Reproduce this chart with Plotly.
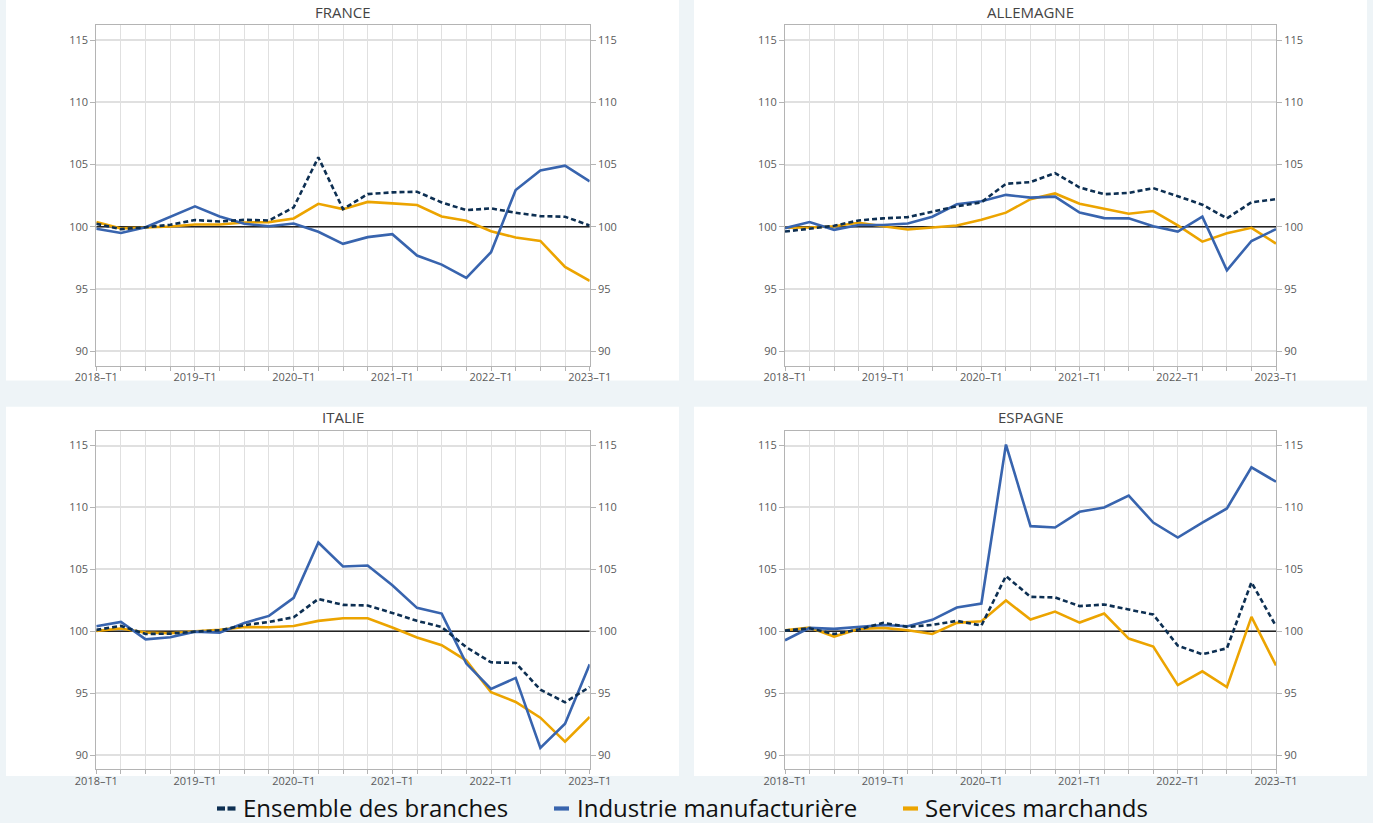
import plotly.graph_objects as go

# ---------------- data ----------------
quarters = ["2018–T1", "2018–T2", "2018–T3", "2018–T4",
            "2019–T1", "2019–T2", "2019–T3", "2019–T4",
            "2020–T1", "2020–T2", "2020–T3", "2020–T4",
            "2021–T1", "2021–T2", "2021–T3", "2021–T4",
            "2022–T1", "2022–T2", "2022–T3", "2022–T4",
            "2023–T1"]
x_tick_labels = ["2018–T1", "2019–T1", "2020–T1", "2021–T1", "2022–T1", "2023–T1"]
y_ticks = [90, 95, 100, 105, 110, 115]
countries = ["FRANCE", "ALLEMAGNE", "ITALIE", "ESPAGNE"]
series_names = ["Ensemble des branches", "Industrie manufacturière", "Services marchands"]

france_ensemble = [100.24, 99.81, 99.97, 100.16, 100.54, 100.43, 100.56, 100.51, 101.56, 105.59, 101.42,
                   102.63, 102.77, 102.82, 101.96, 101.34, 101.48, 101.13, 100.86, 100.81, 100.11]
france_industrie = [99.84, 99.50, 99.97, 100.83, 101.64, 100.83, 100.24, 100.05, 100.27, 99.60, 98.63,
                    99.17, 99.41, 97.69, 96.96, 95.89, 97.96, 102.96, 104.52, 104.92, 103.66]
france_services = [100.38, 99.87, 99.95, 100.03, 100.19, 100.19, 100.35, 100.38, 100.67, 101.85, 101.42,
                   102.00, 101.88, 101.75, 100.83, 100.48, 99.65, 99.14, 98.87, 96.77, 95.65]

allemagne_ensemble = [99.62, 99.86, 100.08, 100.51, 100.68, 100.78, 101.19, 101.65, 101.97, 103.46, 103.59,
                      104.32, 103.16, 102.62, 102.73, 103.11, 102.46, 101.78, 100.68, 101.97, 102.22]
allemagne_industrie = [99.89, 100.38, 99.76, 100.14, 100.14, 100.27, 100.81, 101.81, 102.05, 102.57, 102.35,
                       102.43, 101.14, 100.70, 100.68, 100.05, 99.62, 100.81, 96.51, 98.86, 99.81]
allemagne_services = [99.92, 99.95, 100.05, 100.32, 100.05, 99.78, 99.95, 100.11, 100.57, 101.14, 102.22,
                      102.68, 101.86, 101.43, 101.05, 101.27, 100.11, 98.81, 99.49, 99.92, 98.65]

italie_ensemble = [100.11, 100.43, 99.78, 99.81, 99.97, 100.08, 100.49, 100.75, 101.13, 102.61, 102.13,
                   102.08, 101.48, 100.84, 100.35, 98.71, 97.49, 97.44, 95.28, 94.26, 95.50]
italie_industrie = [100.40, 100.75, 99.35, 99.51, 99.97, 99.89, 100.67, 101.24, 102.70, 107.17, 105.23,
                    105.31, 103.72, 101.89, 101.43, 97.39, 95.34, 96.23, 90.57, 92.53, 97.33]
italie_services = [100.03, 100.22, 99.89, 99.84, 100.00, 100.11, 100.35, 100.32, 100.43, 100.84, 101.05,
                   101.05, 100.30, 99.49, 98.87, 97.63, 95.07, 94.29, 93.02, 91.08, 93.08]

espagne_ensemble = [100.05, 100.24, 99.78, 100.14, 100.68, 100.35, 100.51, 100.84, 100.46, 104.46, 102.78,
                    102.73, 102.03, 102.16, 101.76, 101.35, 98.84, 98.14, 98.62, 103.95, 100.41]
espagne_industrie = [99.27, 100.27, 100.19, 100.32, 100.51, 100.41, 100.92, 101.92, 102.24, 115.08, 108.49,
                     108.38, 109.65, 110.00, 110.95, 108.78, 107.57, 108.78, 109.92, 113.24, 112.08]
espagne_services = [100.08, 100.30, 99.57, 100.19, 100.27, 100.08, 99.78, 100.68, 100.81, 102.49, 100.95,
                    101.59, 100.70, 101.43, 99.41, 98.76, 95.65, 96.76, 95.49, 101.16, 97.24]

panel_data = [
    (france_ensemble, france_industrie, france_services),
    (allemagne_ensemble, allemagne_industrie, allemagne_services),
    (italie_ensemble, italie_industrie, italie_services),
    (espagne_ensemble, espagne_industrie, espagne_services),
]

# ---------------- styling ----------------
W, H = 1373, 823
BG = "#eef4f7"
C_ENS = "#0d2f52"
C_IND = "#3864ae"
C_SER = "#eca400"
TICK_FONT = dict(family="Open Sans", size=11, color="#5a5a5a")
AX_COLOR = "#b4b4b4"
GRID_COLOR = "#e0e0e0"
Y_RANGE = [88.85, 116.2]


def fx(px):
    return px / W


def fy(py):
    return 1 - py / H


x_domains = [[fx(96.3), fx(589.7)], [fx(785), fx(1276)], [fx(96.3), fx(589.7)], [fx(785), fx(1276)]]
y_domains = [[fy(365.5), fy(25.3)], [fy(365.5), fy(25.3)], [fy(769.3), fy(430.7)], [fy(769.3), fy(430.7)]]

fig = go.Figure()
layout = {}
shapes = []
annotations = []

tick_text = [q if q in x_tick_labels else "" for q in quarters]

for i, (ens, ind, ser) in enumerate(panel_data):
    n = i + 1
    xid = "x" if n == 1 else f"x{n}"
    yid = "y" if n == 1 else f"y{n}"
    yrid = f"y{n + 4}"
    xkey = "xaxis" if n == 1 else f"xaxis{n}"
    ykey = "yaxis" if n == 1 else f"yaxis{n}"
    yrkey = f"yaxis{n + 4}"

    fig.add_trace(go.Scatter(x=quarters, y=ser, name=series_names[2], mode="lines",
                             line=dict(color=C_SER, width=2.6), xaxis=xid, yaxis=yid,
                             showlegend=False))
    fig.add_trace(go.Scatter(x=quarters, y=ind, name=series_names[1], mode="lines",
                             line=dict(color=C_IND, width=2.6), xaxis=xid, yaxis=yid,
                             showlegend=False))
    fig.add_trace(go.Scatter(x=quarters, y=ens, name=series_names[0], mode="lines",
                             line=dict(color=C_ENS, width=2.6, dash="5px,3px"), xaxis=xid, yaxis=yid,
                             showlegend=False))
    # invisible trace so that the right-hand axis is rendered
    fig.add_trace(go.Scatter(x=quarters, y=ens, mode="lines", line=dict(width=0), opacity=0,
                             xaxis=xid, yaxis=yrid, showlegend=False, hoverinfo="skip"))

    layout[xkey] = dict(domain=x_domains[i], anchor=yid, type="category",
                        categoryorder="array", categoryarray=quarters, range=[0, len(quarters) - 1],
                        tickmode="array", tickvals=quarters, ticktext=tick_text,
                        ticks="outside", ticklen=4, tickcolor=AX_COLOR, tickwidth=1,
                        ticklabelstandoff=-3,
                        showgrid=True, gridcolor=GRID_COLOR, gridwidth=1,
                        showline=True, linecolor=AX_COLOR, linewidth=1, mirror=True,
                        zeroline=False, tickfont=TICK_FONT, tickangle=0, automargin=False)
    layout[ykey] = dict(domain=y_domains[i], anchor=xid, range=Y_RANGE,
                        tickmode="array", tickvals=y_ticks,
                        ticks="outside", ticklen=5, tickcolor=AX_COLOR, tickwidth=1,
                        showgrid=True, gridcolor=GRID_COLOR, gridwidth=1.5,
                        showline=True, linecolor=AX_COLOR, linewidth=1, mirror=True,
                        zeroline=False, tickfont=TICK_FONT, automargin=False)
    layout[yrkey] = dict(overlaying=yid, side="right", anchor=xid, range=Y_RANGE,
                         tickmode="array", tickvals=y_ticks,
                         ticks="outside", ticklen=5, tickcolor=AX_COLOR, tickwidth=1,
                         showgrid=False, showline=False, zeroline=False, tickfont=TICK_FONT,
                         automargin=False)

    # reference line at 100 (spans the whole category axis)
    shapes.append(dict(type="line", xref=xid, yref=yid, x0=0, x1=len(quarters) - 1, y0=100, y1=100,
                       line=dict(color="#222222", width=1.5), layer="between"))

# white panels
panel_boxes = [(6, 0, 679, 380.5), (694, 0, 1367, 380.5), (6, 406.7, 679, 776), (694, 406.7, 1367, 776)]
for (x0, y0, x1, y1) in panel_boxes:
    shapes.append(dict(type="rect", xref="paper", yref="paper", x0=fx(x0), x1=fx(x1), y0=fy(y1), y1=fy(y0),
                       fillcolor="white", line=dict(width=0), layer="below"))

# panel titles
title_pos = [(342.5, 12), (1030.5, 12), (342.5, 417), (1030.5, 417)]
for name, (tx, ty) in zip(countries, title_pos):
    annotations.append(dict(text=name, xref="paper", yref="paper", x=fx(tx), y=fy(ty),
                            xanchor="center", yanchor="middle", showarrow=False,
                            font=dict(family="Open Sans", size=15, color="#444444")))

# legend (custom, drawn below the panels)
LEG_Y = 807
LEG_T = 4.2
leg_marks = [
    (C_ENS, [(217, 225), (227.5, 235.5)], 241, series_names[0]),
    (C_IND, [(554, 569)], 575, series_names[1]),
    (C_SER, [(903, 918)], 923, series_names[2]),
]
for color, segs, tx, label in leg_marks:
    for (a, b) in segs:
        shapes.append(dict(type="rect", xref="paper", yref="paper", x0=fx(a), x1=fx(b),
                           y0=fy(LEG_Y + 1.5 + LEG_T / 2), y1=fy(LEG_Y + 1.5 - LEG_T / 2),
                           fillcolor=color, line=dict(width=0), layer="above"))
    annotations.append(dict(text=label, xref="paper", yref="paper", x=fx(tx), y=fy(LEG_Y),
                            xanchor="left", yanchor="middle", showarrow=False,
                            font=dict(family="Open Sans", size=24, color="#111111")))

fig.update_layout(width=W, height=H, margin=dict(l=0, r=0, t=0, b=0, autoexpand=False),
                  paper_bgcolor=BG, plot_bgcolor="white", showlegend=False,
                  shapes=shapes, annotations=annotations, hovermode=False, **layout)

page_css = "document.documentElement.style.margin='0';document.body.style.margin='0';"
fig.write_html("out.html", post_script=page_css,
               config={"displayModeBar": False, "responsive": False})
